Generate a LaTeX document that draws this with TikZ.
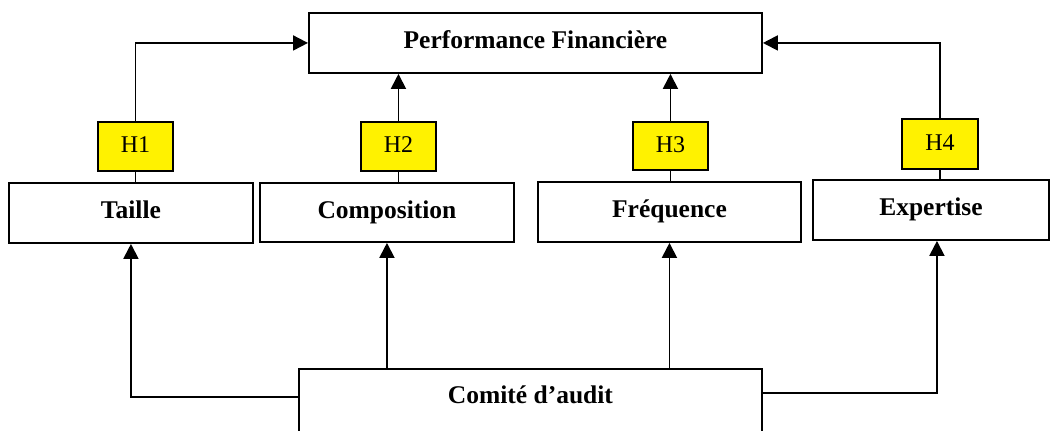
\documentclass[tikz,border=0pt]{standalone}
\usepackage{fontspec}
\setmainfont{Liberation Serif}
\usetikzlibrary{arrows.meta}
\begin{document}
\begin{tikzpicture}[x=1pt,y=-1pt,
  box/.style={draw,line width=1.9pt,inner sep=0pt,font=\fontsize{25.5}{30}\selectfont\bfseries,text height=36pt,text depth=24pt,anchor=north west},
  hyp/.style={draw,line width=1.9pt,fill=yellow,inner sep=0pt,font=\fontsize{24}{28}\selectfont,text height=31pt,text depth=18pt,anchor=north west},
  conn/.style={line width=1.9pt},
  arr/.style={conn,-{Triangle[length=15pt,width=15pt]}}]
\clip (0,0) rectangle (1050,431);
\node[box,minimum width=453pt] (perf) at (308,12) {Performance Financière};
\node[box,minimum width=244pt] (taille) at (8,182) {Taille};
\node[box,minimum width=254pt,text depth=23pt] (comp) at (259,182) {Composition};
\node[box,minimum width=263pt] (freq) at (537,181) {Fréquence};
\node[box,minimum width=236pt] (expe) at (812,179) {Expertise};
\node[box,minimum width=463pt,text height=35pt,text depth=60pt] (comite) at (298,368) {Comité d’audit};
\node[hyp,minimum width=75pt] (h1) at (97,121) {H1};
\node[hyp,minimum width=75pt] (h2) at (360,121) {H2};
\node[hyp,minimum width=75pt,text depth=17pt] (h3) at (632,121) {H3};
\node[hyp,minimum width=76pt,text height=32pt] (h4) at (901,118) {H4};
% hypotheses to performance
\draw[conn] (h1.south) -- (h1.south |- taille.north);
\draw[conn] (h2.south) -- (h2.south |- comp.north);
\draw[conn] (h3.south) -- (h3.south |- freq.north);
\draw[conn] (h4.south) -- (h4.south |- expe.north);
\draw[arr] (h1.north) |- (perf.west);
\draw[arr] (h2.north) -- (h2.north |- perf.south);
\draw[arr] (h3.north) -- (h3.north |- perf.south);
\draw[arr] (h4.north) |- (perf.east);
% comite to dimensions
\draw[arr] ([yshift=-29pt]comite.north west) -| (taille.south);
\draw[arr] (comp.south |- comite.north) -- (comp.south);
\draw[arr] (freq.south |- comite.north) -- (freq.south);
\draw[arr] ([yshift=-25pt]comite.north east) -| ([xshift=6pt]expe.south);
\end{tikzpicture}
\end{document}
